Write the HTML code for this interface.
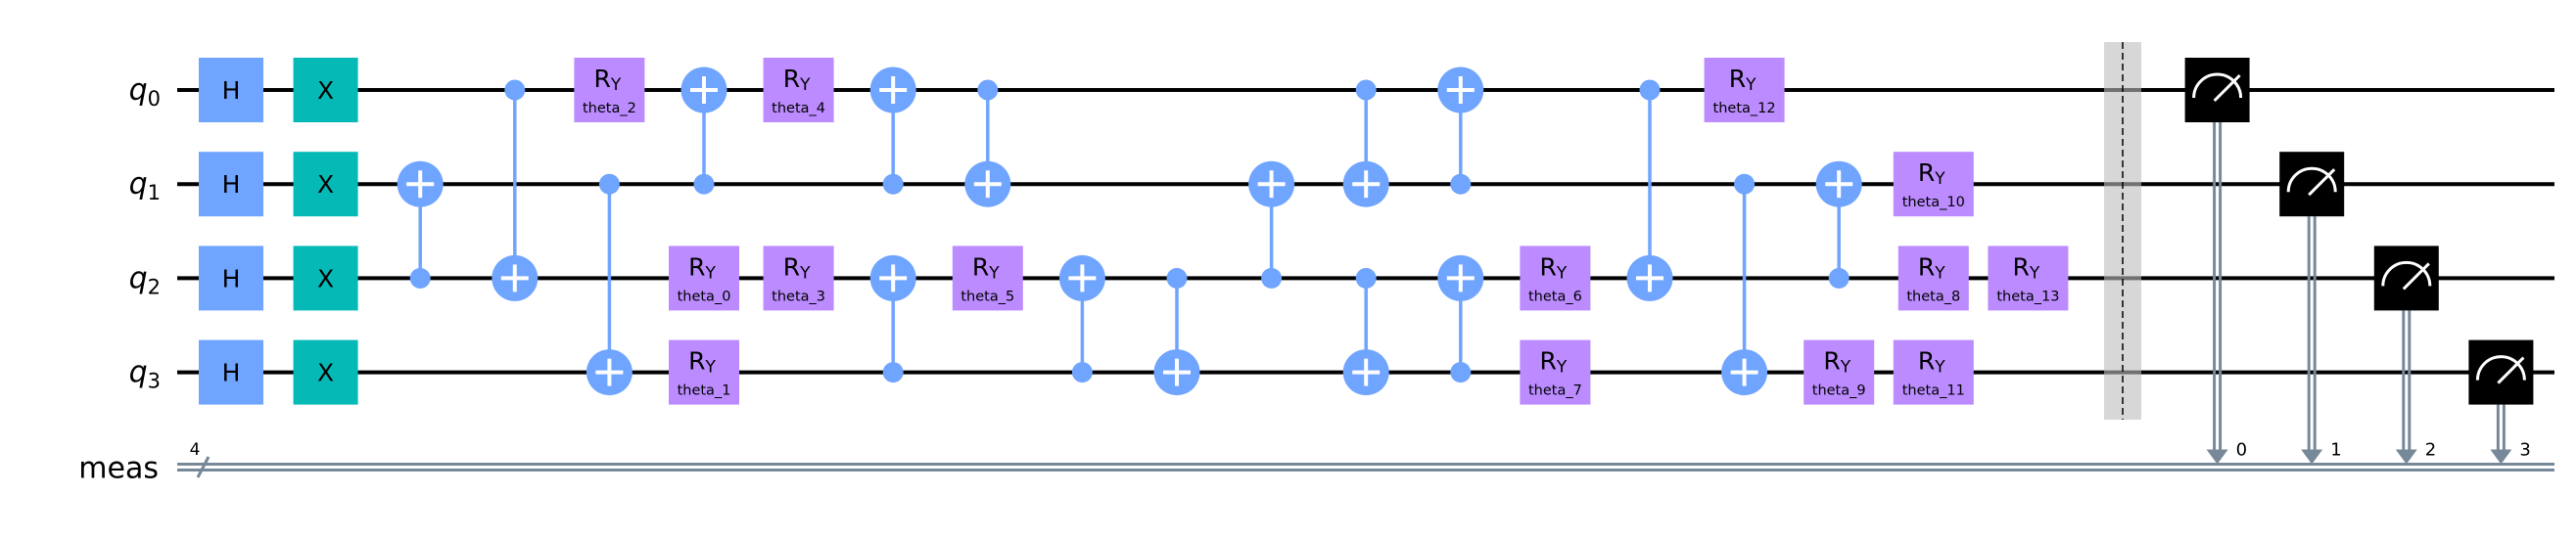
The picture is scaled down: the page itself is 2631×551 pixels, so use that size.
<!DOCTYPE html>
<html><head><meta charset="utf-8"><style>
html,body{margin:0;padding:0;background:#fff;width:2631px;height:551px;overflow:hidden}
svg{display:block}
text{font-family:"DejaVu Sans","Liberation Sans",sans-serif}
</style></head><body>
<svg id="c" width="2631" height="551" viewBox="0 0 2631 551"></svg>
<script>
const qubitLabels = ["0","1","2","3"];
const singleGates = [
 // [col, qubit, kind, param]
 [0,0,"H",""],[0,1,"H",""],[0,2,"H",""],[0,3,"H",""],
 [1,0,"X",""],[1,1,"X",""],[1,2,"X",""],[1,3,"X",""],
 [4,0,"RY","theta_2"],[5,2,"RY","theta_0"],[5,3,"RY","theta_1"],
 [6,0,"RY","theta_4"],[6,2,"RY","theta_3"],[8,2,"RY","theta_5"],
 [14,2,"RY","theta_6"],[14,3,"RY","theta_7"],[16,0,"RY","theta_12"],
 [17,3,"RY","theta_9"],[18,1,"RY","theta_10"],[18,2,"RY","theta_8"],
 [18,3,"RY","theta_11"],[19,2,"RY","theta_13"]
];
const cnots = [
 // [col, control, target]
 [2,2,1],[3,0,2],[4,1,3],[5,1,0],[7,1,0],[7,3,2],[8,0,1],[9,3,2],
 [10,2,3],[11,2,1],[12,0,1],[12,2,3],[13,1,0],[13,3,2],[15,0,2],
 [16,1,3],[17,2,1]
];
const measures = [[21,0,"0"],[22,1,"1"],[23,2,"2"],[24,3,"3"]];
const barrierCol = 20;

const NS="http://www.w3.org/2000/svg";
const svg=document.getElementById("c");
const colX = c => 236 + c*96.6;
const qY = q => 92 + q*96.2;
const cY = 477.5;
function el(tag,attrs,parent){const e=document.createElementNS(NS,tag);for(const k in attrs)e.setAttribute(k,attrs[k]);(parent||svg).appendChild(e);return e;}

// wires
qubitLabels.forEach((l,q)=>{
 const w=el("line",{x1:181,x2:2609,y1:qY(q),y2:qY(q),stroke:"#000","stroke-width":4});
 
 
 const t=el("text",{x:164,y:qY(q)+10,"font-size":30,"font-style":"italic","text-anchor":"end"});
 
 
 t.textContent="q";
 const s=el("tspan",{"font-size":21,"font-style":"normal",dy:6},t);s.textContent=l;
});
// classical register
[cY-3,cY+3].forEach(y=>{
 const w=el("line",{x1:181,x2:2609,y1:y,y2:y,stroke:"#778899","stroke-width":3});
 
 
});
{const t=el("text",{x:162,y:cY+11,"font-size":30,"text-anchor":"end"});t.textContent="meas";


const s=el("line",{x1:202,y1:488,x2:213,y2:467,stroke:"#778899","stroke-width":3});


const n=el("text",{x:199,y:465,"font-size":17,"text-anchor":"middle"});n.textContent="4";

}

// barrier
{const bx=colX(barrierCol);
const r=el("rect",{x:bx-19,y:43,width:38,height:386,fill:"#bdbdbd","fill-opacity":0.6});


const d=el("line",{x1:bx,x2:bx,y1:43,y2:429,stroke:"#000","stroke-width":1.5,"stroke-dasharray":"7,4"});

}

// single gates
singleGates.forEach(([c,q,k,p])=>{
 const x=colX(c),y=qY(q);
 const g=el("g",{});
 
 
 const w = k==="RY" ? (p.length>7?82:72) : 66;
 const fill = k==="H"?"#6fa4ff":k==="X"?"#05bab6":"#bb8bff";
 el("rect",{x:x-w/2,y:y-33,width:w,height:66,fill:fill},g);
 if(k==="RY"){
  const t=el("text",{x:x-2,y:y-3,"font-size":25,"text-anchor":"middle"},g);t.textContent="R";
  const s=el("tspan",{"font-size":17,dy:3},t);s.textContent="Y";
  const th=el("text",{x:x,y:y+23,"font-size":14.5,"text-anchor":"middle"},g);th.textContent=p;
 } else {
  const t=el("text",{x:x,y:y+9,"font-size":25,"text-anchor":"middle"},g);t.textContent=k;
 }
});

// cnots
cnots.forEach(([c,ct,tg])=>{
 const x=colX(c),yc=qY(ct),yt=qY(tg);
 const g=el("g",{});
 
 
 el("line",{x1:x,x2:x,y1:yc,y2:yt,stroke:"#6fa4ff","stroke-width":3.5},g);
 el("circle",{cx:x,cy:yc,r:10.5,fill:"#6fa4ff"},g);
 el("circle",{cx:x,cy:yt,r:23.5,fill:"#6fa4ff"},g);
 el("line",{x1:x-14,x2:x+14,y1:yt,y2:yt,stroke:"#fff","stroke-width":4},g);
 el("line",{x1:x,x2:x,y1:yt-14,y2:yt+14,stroke:"#fff","stroke-width":4},g);
});

// measures
measures.forEach(([c,q,l])=>{
 const x=colX(c),y=qY(q);
 const g=el("g",{});
 
 
 el("line",{x1:x-3,x2:x-3,y1:y+33,y2:cY-16,stroke:"#778899","stroke-width":3},g);
 el("line",{x1:x+3,x2:x+3,y1:y+33,y2:cY-16,stroke:"#778899","stroke-width":3},g);
 el("polygon",{points:`${x-11},${cY-18} ${x+11},${cY-18} ${x},${cY-3}`,fill:"#778899"},g);
 el("rect",{x:x-33,y:y-33,width:66,height:66,fill:"#000"},g);
 el("path",{d:`M${x-24},${y+8} A24,24 0 0 1 ${x+24},${y+8}`,fill:"none",stroke:"#fff","stroke-width":3},g);
 el("line",{x1:x-3,y1:y+11,x2:x+23,y2:y-15,stroke:"#fff","stroke-width":3},g);
 const t=el("text",{x:x+19,y:cY-12,"font-size":18},g);t.textContent=l;
});
</script>
</body></html>
